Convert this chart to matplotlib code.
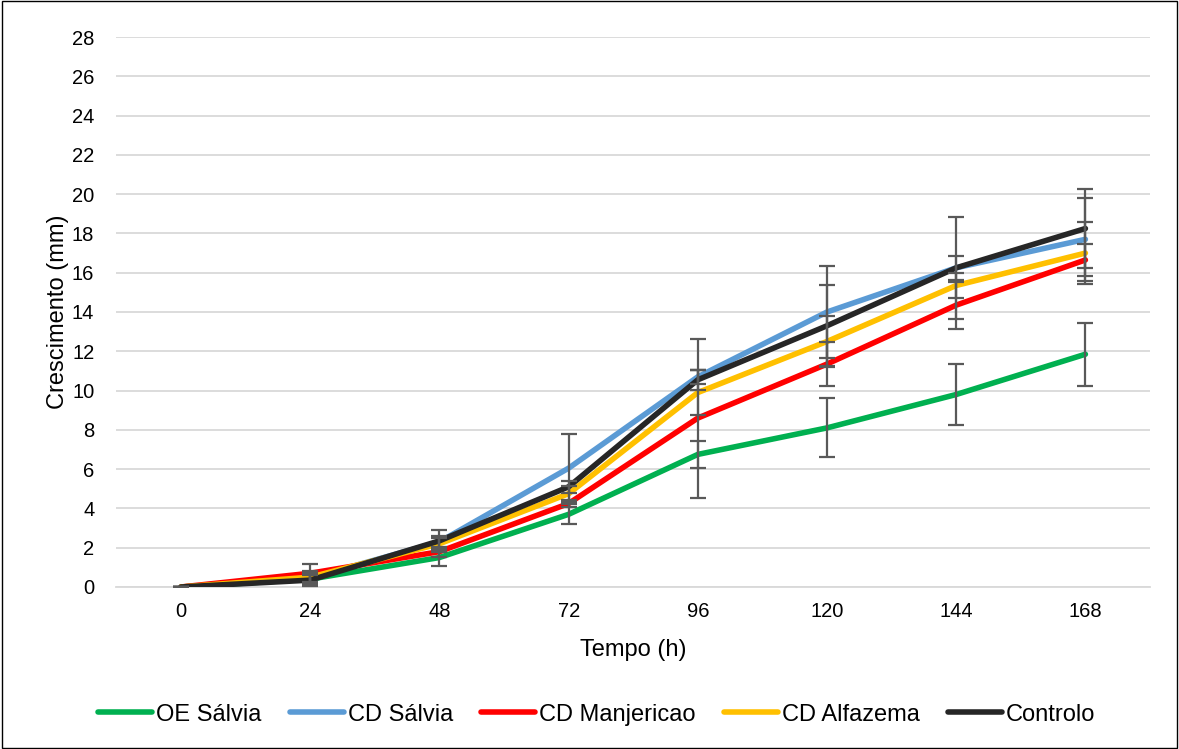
import numpy as np
import matplotlib.pyplot as plt
from matplotlib.patches import Rectangle

plt.rcParams['font.family'] = ['Liberation Sans', 'DejaVu Sans']

# Dados
tempos = ['0', '24', '48', '72', '96', '120', '144', '168']
series = ['OE Sálvia', 'CD Sálvia', 'CD Manjericao', 'CD Alfazema', 'Controlo']
cores = ['#00B050', '#5B9BD5', '#FF0000', '#FFC000', '#262626']

oe_salvia = [0, 0.4, 1.5, 3.7, 6.75, 8.1, 9.8, 11.85]
cd_salvia = [0, 0.45, 2.3, 6.05, 10.7, 14.0, 16.25, 17.7]
cd_manjericao = [0, 0.7, 1.8, 4.25, 8.6, 11.35, 14.35, 16.65]
cd_alfazema = [0, 0.5, 2.2, 4.75, 9.9, 12.5, 15.35, 17.0]
controlo = [0, 0.35, 2.35, 5.1, 10.55, 13.3, 16.25, 18.25]

# Desvios (barras de erro)
err_oe_salvia = [0, 0.2, 0.45, 0.5, 0.7, 1.5, 1.55, 1.6]
err_cd_salvia = [0, 0.3, 0.3, 1.75, 0.35, 2.35, 0.6, 2.1]
err_cd_manjericao = [0, 0.45, 0.25, 0.2, 4.05, 1.1, 1.2, 0.8]
err_cd_alfazema = [0, 0.3, 0.3, 0.4, 1.15, 1.3, 0.65, 1.6]
err_controlo = [0, 0.3, 0.55, 0.3, 0.5, 2.05, 2.6, 2.0]

valores = [oe_salvia, cd_salvia, cd_manjericao, cd_alfazema, controlo]
erros = [err_oe_salvia, err_cd_salvia, err_cd_manjericao, err_cd_alfazema, err_controlo]

fig = plt.figure(figsize=(11.79, 7.49), dpi=100)
ax = fig.add_axes([0.0988, 0.2163, 0.8766, 0.7343])

x = np.arange(len(tempos))
for nome, cor, v, e in zip(series, cores, valores, erros):
    ax.plot(x, v, color=cor, lw=4.0, label=nome, solid_capstyle='round', zorder=3)
    ax.errorbar(x, v, yerr=e, fmt='none', ecolor='#595959', elinewidth=1.6,
                capsize=5.5, capthick=1.6, zorder=4)

ax.set_xlim(-0.5, 7.5)
ax.set_ylim(0, 28)
ax.set_yticks(np.arange(0, 29, 2))
ax.set_xticks(x)
ax.set_xticklabels(tempos)
ax.grid(axis='y', color='#D9D9D9', lw=1.3, zorder=0)
for s in ['top', 'right', 'left']:
    ax.spines[s].set_visible(False)
ax.spines['bottom'].set_color('#D9D9D9')
ax.spines['bottom'].set_linewidth(1.3)
ax.tick_params(length=0, labelsize=14.5, colors='#000000', pad=11)
ax.tick_params(axis='y', pad=16)
ax.set_xlabel('Tempo (h)', fontsize=17, labelpad=13)
ax.set_ylabel('Crescimento (mm)', fontsize=17, labelpad=2)

leg = fig.legend(loc='center', bbox_to_anchor=(0.506, 0.046), ncol=5, frameon=False,
                 fontsize=17, handlelength=2.3, handletextpad=0.15, columnspacing=1.2)

fig.patches.append(Rectangle((0.002, 0.002), 0.996, 0.996, transform=fig.transFigure,
                             fill=False, edgecolor='#000000', lw=1.0))

fig.savefig('out.png', dpi=100)
